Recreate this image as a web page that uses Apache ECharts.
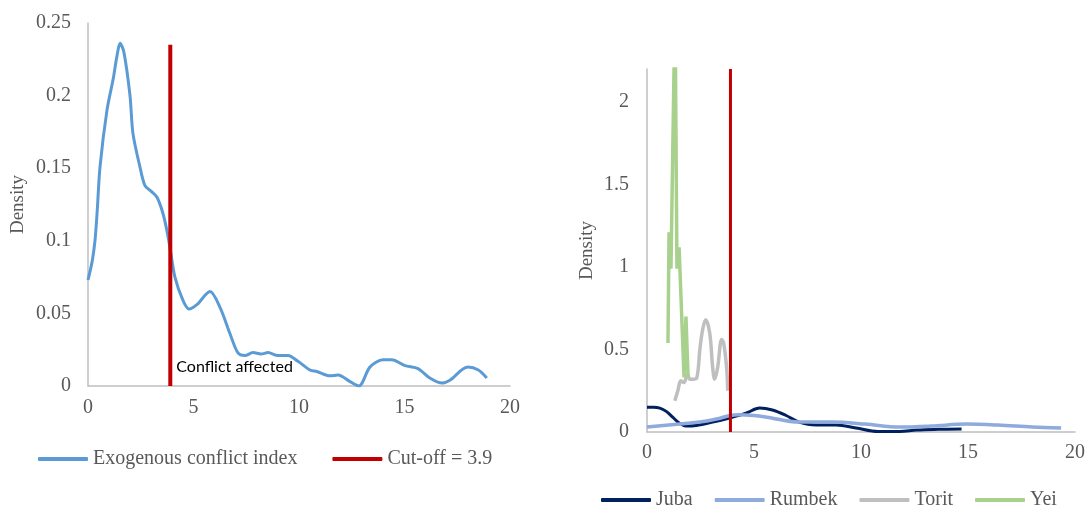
<!DOCTYPE html>
<html>
<head>
<meta charset="utf-8">
<script src="https://cdn.jsdelivr.net/npm/echarts@6/dist/echarts.min.js"></script>
<style>
  html, body { margin: 0; padding: 0; background: #fff; }
  #chart { width: 1090px; height: 510px; }
</style>
</head>
<body>
<div id="chart"></div>
<script>
  // left panel: exogenous conflict index density
  const conflictX = [0, 0.2, 0.33, 0.43, 0.57, 0.9, 1.2, 1.37, 1.52, 1.7, 1.99, 2.13, 2.46, 2.7, 3.0, 3.27, 3.55, 3.74, 3.9, 4.12, 4.5, 4.79, 5.16, 5.78, 6.26, 6.73, 7.1, 7.44, 7.82, 8.2, 8.53, 9.0, 9.48, 9.95, 10.52, 10.85, 11.47, 11.85, 12.42, 12.84, 13.36, 13.98, 14.4, 15.02, 15.64, 16.2, 16.78, 17.15, 18.0, 18.5, 18.9]
  const conflictY = [0.073, 0.086, 0.1, 0.119, 0.151, 0.19, 0.212, 0.227, 0.236, 0.23, 0.2, 0.174, 0.151, 0.138, 0.134, 0.13, 0.119, 0.107, 0.094, 0.075, 0.059, 0.053, 0.056, 0.065, 0.054, 0.036, 0.023, 0.021, 0.023, 0.022, 0.023, 0.021, 0.021, 0.017, 0.011, 0.01, 0.007, 0.0076, 0.003, 0.0, 0.013, 0.018, 0.018, 0.014, 0.012, 0.0055, 0.002, 0.004, 0.013, 0.011, 0.0055]
  const cutoff = 3.9
  const cutoffTopLeft = 0.235

  // right panel: densities by location
  const jubaX = [0, 0.3, 0.6, 0.9, 1.2, 1.5, 1.8, 2.3, 3.07, 3.86, 4.65, 5.26, 5.86, 6.5, 7.1, 7.9, 8.84, 9.77, 10.8, 11.8, 12.6, 13.6, 14.7]
  const jubaY = [0.15, 0.15, 0.145, 0.125, 0.09, 0.055, 0.037, 0.04, 0.06, 0.085, 0.115, 0.145, 0.133, 0.1, 0.06, 0.042, 0.042, 0.024, 0.003, 0.003, 0.012, 0.016, 0.018]
  const rumbekX = [0, 1.67, 2.47, 3.3, 3.86, 4.3, 5.0, 5.6, 7.1, 8.65, 10.2, 11.8, 13.3, 14.9, 16.4, 18.0, 19.35]
  const rumbekY = [0.03, 0.05, 0.06, 0.08, 0.1, 0.105, 0.1, 0.09, 0.06, 0.06, 0.048, 0.03, 0.036, 0.048, 0.042, 0.03, 0.024]
  const toritX = [1.3, 1.44, 1.58, 1.72, 1.9, 2.0, 2.14, 2.33, 2.47, 2.6, 2.74, 2.93, 3.07, 3.16, 3.3, 3.49, 3.58, 3.72, 3.77]
  const toritY = [0.19, 0.25, 0.31, 0.3, 0.35, 0.32, 0.32, 0.33, 0.5, 0.62, 0.68, 0.6, 0.39, 0.32, 0.39, 0.56, 0.54, 0.39, 0.25]
  const yeiX = [0.98, 1.03, 1.12, 1.31, 1.4, 1.5, 1.73, 1.82, 1.92]
  const yeiY = [0.54, 1.21, 0.99, 2.6, 0.99, 1.12, 0.33, 0.7, 0.33]
  const cutoffTopRight = 2.2

  const xTicks = [0, 5, 10, 15, 20]

  const pairs = (xs, ys) => xs.map((x, i) => [x, ys[i]])

  const serif = 'Liberation Serif'
  const grey = '#595959'
  const axisGrey = '#bfbfbf'

  let myChart = echarts.init(document.getElementById('chart'))

  let xAxisBase = {
    type: 'value',
    min: xTicks[0],
    max: xTicks[xTicks.length - 1],
    interval: 5,
    splitLine: {show: false},
    axisTick: {show: false},
    axisLine: {onZero: false, lineStyle: {color: axisGrey, width: 1.5}},
    axisLabel: {color: grey, fontFamily: serif, fontSize: 20, margin: 12}
  }

  let legendBase = {
    icon: 'roundRect',
    padding: 0,
    itemWidth: 50,
    itemHeight: 4,
    textStyle: {color: grey, fontFamily: serif, fontSize: 20}
  }

  let option = {
    animation: false,
    grid: [
      {left: 88, top: 23, width: 422, height: 363},
      {left: 647, top: 69, width: 428, height: 363}
    ],
    xAxis: [
      Object.assign({}, xAxisBase, {gridIndex: 0}),
      Object.assign({}, xAxisBase, {gridIndex: 1, axisLabel: Object.assign({}, xAxisBase.axisLabel, {margin: 11})})
    ],
    yAxis: [
      {
        gridIndex: 0,
        type: 'value',
        min: 0,
        max: 0.25,
        interval: 0.05,
        name: 'Density',
        nameLocation: 'middle',
        nameGap: 60,
        nameTextStyle: {color: grey, fontFamily: serif, fontSize: 19},
        splitLine: {show: false},
        axisTick: {show: false},
        axisLine: {show: true, lineStyle: {color: axisGrey, width: 1.5}},
        axisLabel: {color: grey, fontFamily: serif, fontSize: 20, margin: 17}
      },
      {
        gridIndex: 1,
        type: 'value',
        min: 0,
        max: cutoffTopRight,
        interval: 0.5,
        name: 'Density',
        nameLocation: 'middle',
        nameGap: 50,
        nameTextStyle: {color: grey, fontFamily: serif, fontSize: 19},
        splitLine: {show: false},
        axisTick: {show: false},
        axisLine: {show: true, lineStyle: {color: axisGrey, width: 1.5}},
        axisLabel: {color: grey, fontFamily: serif, fontSize: 20, margin: 18, showMaxLabel: false}
      }
    ],
    legend: [
      Object.assign({}, legendBase, {
        data: ['Exogenous conflict index', 'Cut-off = 3.9'],
        left: 38,
        top: 449,
        itemGap: 35
      }),
      Object.assign({}, legendBase, {
        data: ['Juba', 'Rumbek', 'Torit', 'Yei'],
        left: 601,
        top: 490,
        itemGap: 22
      })
    ],
    series: [
      {
        name: 'Exogenous conflict index',
        type: 'line',
        xAxisIndex: 0,
        yAxisIndex: 0,
        smooth: 0.3,
        symbol: 'none',
        lineStyle: {color: '#5b9bd5', width: 3},
        itemStyle: {color: '#5b9bd5'},
        data: pairs(conflictX, conflictY)
      },
      {
        name: 'Cut-off = 3.9',
        type: 'line',
        xAxisIndex: 0,
        yAxisIndex: 0,
        symbol: 'none',
        lineStyle: {color: '#c00000', width: 4},
        itemStyle: {color: '#c00000'},
        data: [[cutoff, 0], [cutoff, cutoffTopLeft]]
      },
      {
        name: 'Juba',
        type: 'line',
        xAxisIndex: 1,
        yAxisIndex: 1,
        smooth: 0.35,
        symbol: 'none',
        lineStyle: {color: '#002060', width: 3},
        itemStyle: {color: '#002060'},
        data: pairs(jubaX, jubaY)
      },
      {
        name: 'Rumbek',
        type: 'line',
        xAxisIndex: 1,
        yAxisIndex: 1,
        smooth: 0.35,
        symbol: 'none',
        lineStyle: {color: '#8faadc', width: 3.5},
        itemStyle: {color: '#8faadc'},
        data: pairs(rumbekX, rumbekY)
      },
      {
        name: 'Torit',
        type: 'line',
        xAxisIndex: 1,
        yAxisIndex: 1,
        smooth: 0.35,
        symbol: 'none',
        lineStyle: {color: '#bfbfbf', width: 3.5},
        itemStyle: {color: '#bfbfbf'},
        data: pairs(toritX, toritY)
      },
      {
        name: 'Yei',
        type: 'line',
        xAxisIndex: 1,
        yAxisIndex: 1,
        symbol: 'none',
        lineStyle: {color: '#a9d18e', width: 3.5},
        itemStyle: {color: '#a9d18e'},
        data: pairs(yeiX, yeiY)
      },
      {
        name: 'cutoffRight',
        type: 'line',
        xAxisIndex: 1,
        yAxisIndex: 1,
        symbol: 'none',
        lineStyle: {color: '#c00000', width: 3},
        itemStyle: {color: '#c00000'},
        data: [[cutoff, 0], [cutoff, cutoffTopRight]]
      }
    ]
  }
  myChart.setOption(option)

  // annotation next to the cut-off line
  let p = myChart.convertToPixel({gridIndex: 0}, [cutoff, 0.013])
  myChart.setOption({
    graphic: [{
      type: 'text',
      x: p[0] + 6,
      y: p[1],
      style: {text: 'Conflict affected', fill: '#000', font: '16px Lato', textVerticalAlign: 'middle'}
    }]
  })
</script>
</body>
</html>
